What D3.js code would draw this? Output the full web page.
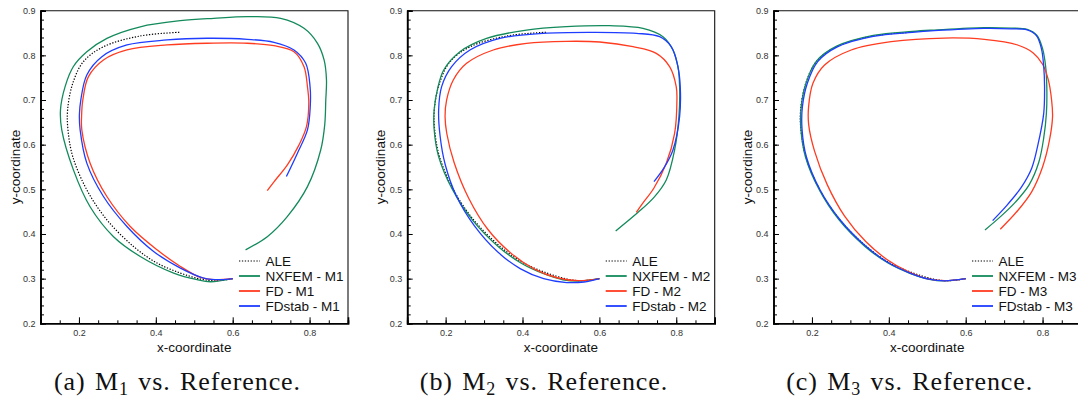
<!DOCTYPE html>
<html>
<head>
<meta charset="utf-8">
<script src="https://cdn.jsdelivr.net/npm/d3@7"></script>
<style>
  html, body { margin: 0; padding: 0; background: #fff; }
  svg { display: block; }
</style>
</head>
<body>
<svg id="chart" width="1078" height="401"></svg>
<script>
// ---------------- DATA ----------------
const xTickLabels = [0.2, 0.4, 0.6, 0.8];
const yTickLabels = [0.2, 0.3, 0.4, 0.5, 0.6, 0.7, 0.8, 0.9];
const seriesNames = ["ALE", "NXFEM", "FD", "FDstab"];
const captions = ["(a) M|1| vs. Reference.", "(b) M|2| vs. Reference.", "(c) M|3| vs. Reference."];
const meshLabels = ["M1", "M2", "M3"];

// Reference (ALE) trajectory, same in all panels
const ale = [[0.600,0.300],[0.555,0.2953],[0.516,0.299],[0.464,0.3125],[0.403,0.335],[0.342,0.372],
  [0.2727,0.4318],[0.2205,0.4989],[0.1840,0.573],[0.1715,0.633],[0.1705,0.678],[0.1840,0.7376],
  [0.2117,0.786],[0.263,0.819],[0.3596,0.8434],[0.4613,0.8517]];

// Panel (a) M1
const nxfemM1 = [[0.600,0.300],[0.542,0.293],[0.5075,0.2976],[0.4465,0.3125],[0.3596,0.3497],[0.290,0.394],
  [0.229,0.461],[0.1856,0.5436],[0.1553,0.633],[0.152,0.678],[0.164,0.730],[0.1856,0.775],[0.2205,0.808],
  [0.2727,0.838],[0.3596,0.864],[0.4639,0.8776],[0.5508,0.883],[0.638,0.8866],[0.7248,0.883],[0.7856,0.8606],
  [0.8206,0.827],[0.8378,0.7897],[0.844,0.745],[0.8422,0.700],[0.8395,0.645],[0.829,0.588],[0.7945,0.506],
  [0.742,0.439],[0.690,0.394],[0.6335,0.3645]];
const fdM1 = [[0.600,0.300],[0.5508,0.2976],[0.5161,0.3027],[0.464,0.3273],[0.4032,0.3646],[0.3335,0.4168],
  [0.2727,0.4839],[0.2291,0.5586],[0.2075,0.6331],[0.207,0.667],[0.2101,0.7002],[0.2247,0.7523],[0.2638,0.7897],
  [0.3249,0.8121],[0.4292,0.8233],[0.5336,0.8271],[0.638,0.8271],[0.7074,0.8217],[0.7595,0.8083],[0.7856,0.7747],
  [0.7945,0.730],[0.798,0.6935],[0.7919,0.6405],[0.7726,0.5996],[0.7423,0.5548],[0.7074,0.5168],[0.690,0.4973]];
const fdstabM1 = [[0.600,0.300],[0.5683,0.2976],[0.5247,0.3014],[0.464,0.3237],[0.3943,0.3609],[0.3249,0.4168],
  [0.2638,0.4839],[0.2205,0.5586],[0.2031,0.6331],[0.2012,0.6667],[0.2049,0.7002],[0.2205,0.7562],[0.2597,0.7971],
  [0.3249,0.8233],[0.4292,0.8345],[0.5336,0.8383],[0.638,0.836],[0.7074,0.8293],[0.7595,0.8121],[0.790,0.7823],
  [0.8013,0.730],[0.8018,0.6852],[0.7945,0.6331],[0.7684,0.581],[0.7397,0.5286]];

// Panel (b) M2
const nxfemM2 = [[0.600,0.300],[0.545,0.2945],[0.505,0.2975],[0.455,0.311],[0.398,0.334],[0.338,0.371],
  [0.270,0.431],[0.218,0.499],[0.1815,0.574],[0.1700,0.635],[0.1703,0.680],[0.1790,0.725],[0.1950,0.7672],
  [0.2372,0.8082],[0.3065,0.838],[0.4104,0.8567],[0.5143,0.8642],[0.6268,0.8664],[0.7134,0.8605],[0.7654,0.8418],
  [0.7914,0.812],[0.8043,0.7747],[0.8087,0.7299],[0.8069,0.6628],[0.7957,0.5882],[0.774,0.521],[0.742,0.482],
  [0.700,0.448],[0.6424,0.4069]];
const fdM2 = [[0.600,0.300],[0.545,0.2955],[0.490,0.302],[0.430,0.322],[0.370,0.357],[0.310,0.410],
  [0.260,0.480],[0.222,0.560],[0.203,0.625],[0.1985,0.6628],[0.2026,0.7001],[0.2199,0.7448],[0.2545,0.7821],
  [0.3238,0.812],[0.4104,0.8269],[0.5143,0.8314],[0.6009,0.8299],[0.6874,0.8194],[0.748,0.8045],[0.7827,0.7747],
  [0.7999,0.7299],[0.8017,0.7001],[0.7957,0.6255],[0.774,0.5583],[0.742,0.503],[0.712,0.468],[0.696,0.4484]];
const fdstabM2 = [[0.600,0.300],[0.560,0.2925],[0.515,0.2913],[0.455,0.300],[0.395,0.322],[0.335,0.360],
  [0.275,0.418],[0.228,0.485],[0.199,0.555],[0.1855,0.620],[0.1818,0.6777],[0.1896,0.7299],[0.2156,0.7747],
  [0.2632,0.812],[0.3411,0.8381],[0.4537,0.8493],[0.5836,0.8515],[0.6961,0.8493],[0.7567,0.8418],[0.787,0.8194],
  [0.8043,0.7747],[0.8104,0.7299],[0.8087,0.6628],[0.7914,0.5882],[0.768,0.548],[0.7420,0.5173]];

// Panel (c) M3
const nxfemM3 = [[0.600,0.300],[0.545,0.295],[0.505,0.2985],[0.455,0.312],[0.398,0.335],[0.338,0.372],
  [0.270,0.432],[0.219,0.499],[0.183,0.573],[0.1712,0.635],[0.1720,0.685],[0.1845,0.7376],[0.2117,0.787],
  [0.263,0.820],[0.3596,0.8445],[0.4613,0.8535],[0.5186,0.8567],[0.6485,0.8622],[0.7178,0.8610],[0.7600,0.858],
  [0.7850,0.845],[0.8000,0.815],[0.8080,0.775],[0.8110,0.730],[0.8100,0.6702],[0.8030,0.615],[0.7900,0.560],
  [0.7650,0.510],[0.7300,0.472],[0.6920,0.440],[0.6502,0.4091]];
const fdM3 = [[0.600,0.300],[0.545,0.2955],[0.500,0.300],[0.450,0.316],[0.395,0.343],[0.340,0.383],
  [0.285,0.440],[0.240,0.510],[0.207,0.585],[0.1915,0.645],[0.1913,0.6852],[0.2026,0.7374],[0.2329,0.7784],
  [0.3022,0.812],[0.4061,0.8306],[0.5446,0.8388],[0.6485,0.8358],[0.7351,0.8232],[0.7750,0.806],[0.8000,0.780],
  [0.8150,0.745],[0.8235,0.700],[0.8260,0.6628],[0.8180,0.610],[0.8000,0.550],[0.7720,0.495],[0.7350,0.452],
  [0.690,0.4107]];
const fdstabM3 = [[0.600,0.300],[0.545,0.2952],[0.505,0.2988],[0.455,0.3125],[0.398,0.336],[0.339,0.3735],
  [0.272,0.433],[0.221,0.499],[0.1855,0.573],[0.1742,0.635],[0.1752,0.685],[0.1880,0.7376],[0.2150,0.786],
  [0.266,0.819],[0.3596,0.8425],[0.4613,0.8515],[0.5186,0.8552],[0.6485,0.8605],[0.7178,0.8595],[0.7600,0.857],
  [0.7840,0.844],[0.7970,0.815],[0.8030,0.775],[0.8052,0.730],[0.8030,0.6702],[0.7880,0.600],[0.7720,0.548],
  [0.7450,0.505],[0.7100,0.467],[0.6701,0.430]];

const panelSeries = [
  [ale, nxfemM1, fdM1, fdstabM1],
  [ale, nxfemM2, fdM2, fdstabM2],
  [ale, nxfemM3, fdM3, fdstabM3]
];

// ---------------- STYLE / LAYOUT ----------------
const colors = ["#000000", "#138a5b", "#ff3b20", "#1f3dff"];
const panelLeft = [40.5, 407.2, 773.5];
const panelWidth = 307.5;
const plotTop = 10.7, plotBottom = 323.3;
const captionX = [177.5, 544, 909.7];
const ylabX = [20, 385, 751.5];

const svg = d3.select("#chart");
const sansFont = "'Liberation Sans', Arial, Helvetica, sans-serif";

panelSeries.forEach((series, pi) => {
  const x0 = panelLeft[pi];
  const x = d3.scaleLinear().domain([0.1, 0.9]).range([x0, x0 + panelWidth]);
  const y = d3.scaleLinear().domain([0.2, 0.9]).range([plotBottom, plotTop]);
  const g = svg.append("g");

  const clipId = "clip" + pi;
  g.append("clipPath").attr("id", clipId).append("rect")
    .attr("x", x0).attr("y", plotTop).attr("width", panelWidth).attr("height", plotBottom - plotTop);

  // frame (top & right)
  g.append("path")
    .attr("d", `M${x0},${plotTop}H${x0 + panelWidth}V${plotBottom}`)
    .attr("fill", "none").attr("stroke", "#111").attr("stroke-width", 1.1);

  // x axis: minor ticks every 0.05, long ticks at labels
  const xMinor = d3.range(0.15, 0.9001, 0.05).map(v => +v.toFixed(2));
  const xAxis = d3.axisBottom(x).tickValues(xMinor).tickSize(-3).tickFormat("");
  const gx = g.append("g").attr("transform", `translate(0,${plotBottom})`).call(xAxis);
  const xAxisMajor = d3.axisBottom(x).tickValues(xTickLabels).tickSize(-6).tickPadding(6)
    .tickFormat(d3.format(".1f"));
  const gxm = g.append("g").attr("transform", `translate(0,${plotBottom})`).call(xAxisMajor);
  [gx, gxm].forEach(a => {
    a.select(".domain").attr("stroke", "#000").attr("stroke-width", 1.6);
    a.selectAll(".tick line").attr("stroke", "#000").attr("stroke-width", 1);
  });
  gxm.selectAll("text").attr("font-family", sansFont).attr("font-size", 9).attr("fill", "#333");

  // y axis: minor ticks every 0.02, long ticks every 0.1
  const yMinor = d3.range(0.22, 0.9001, 0.02).map(v => +v.toFixed(2));
  const yAxis = d3.axisLeft(y).tickValues(yMinor).tickSize(-3.5).tickFormat("");
  const gy = g.append("g").attr("transform", `translate(${x0},0)`).call(yAxis);
  const yAxisMajor = d3.axisLeft(y).tickValues(yTickLabels).tickSize(-5.5).tickPadding(5)
    .tickFormat(d3.format(".1f"));
  const gym = g.append("g").attr("transform", `translate(${x0},0)`).call(yAxisMajor);
  [gy, gym].forEach(a => {
    a.select(".domain").attr("stroke", "#000").attr("stroke-width", 1.6);
    a.selectAll(".tick line").attr("stroke", "#000").attr("stroke-width", 1);
  });
  gym.selectAll("text").attr("font-family", sansFont).attr("font-size", 9).attr("fill", "#333");

  // axis titles
  g.append("text").attr("x", x0 + panelWidth / 2).attr("y", 352)
    .attr("text-anchor", "middle").attr("font-family", sansFont).attr("font-size", 13.5)
    .attr("fill", "#111").text("x-coordinate");
  g.append("text").attr("transform", `translate(${ylabX[pi]},${(plotTop + plotBottom) / 2}) rotate(-90)`)
    .attr("text-anchor", "middle").attr("font-family", sansFont).attr("font-size", 13.5)
    .attr("fill", "#111").text("y-coordinate");

  // curves
  const line = d3.line().x(d => x(d[0])).y(d => y(d[1])).curve(d3.curveCatmullRom.alpha(0.5));
  const curves = g.append("g").attr("clip-path", `url(#${clipId})`);
  series.forEach((s, si) => {
    const p = curves.append("path").datum(s).attr("d", line)
      .attr("fill", "none").attr("stroke", colors[si]).attr("stroke-width", si === 0 ? 1.2 : 1.3)
      .attr("stroke-linejoin", "round");
    if (si === 0) p.attr("stroke-dasharray", "1.3,1.6");
  });

  // legend
  const lx = x0 + 198.5;
  seriesNames.forEach((name, si) => {
    const ly = 261 + si * 15;
    const l = g.append("line").attr("x1", lx).attr("x2", lx + 21).attr("y1", ly).attr("y2", ly)
      .attr("stroke", colors[si]).attr("stroke-width", si === 0 ? 1.2 : 1.8);
    if (si === 0) l.attr("stroke-dasharray", "1.3,1.6");
    g.append("text").attr("x", lx + 26.5).attr("y", ly + 5)
      .attr("font-family", sansFont).attr("font-size", 13.5).attr("fill", "#111")
      .text(si === 0 ? name : `${name} - ${meshLabels[pi]}`);
  });

  // caption
  const parts = captions[pi].split("|");
  const cap = g.append("text").attr("x", captionX[pi]).attr("y", 390)
    .attr("text-anchor", "middle").attr("font-family", "'Liberation Serif', 'Times New Roman', serif")
    .attr("font-size", 26).attr("fill", "#111").attr("word-spacing", 2).attr("letter-spacing", 0.9);
  cap.append("tspan").text(parts[0]);
  cap.append("tspan").attr("font-size", 18).attr("dy", 5).text(parts[1]);
  cap.append("tspan").attr("dy", -5).text(parts[2]);
});
</script>
</body>
</html>
